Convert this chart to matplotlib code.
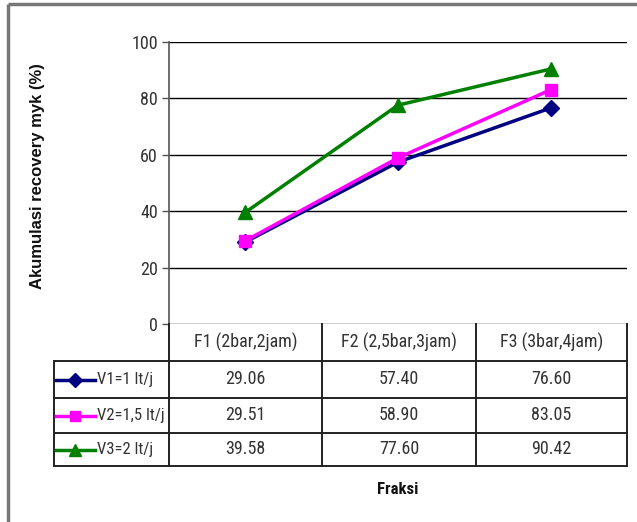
import matplotlib
matplotlib.use("Agg")
import matplotlib.pyplot as plt
from matplotlib import font_manager

# Data
fractions = ["F1 (2bar,2jam)", "F2 (2,5bar,3jam)", "F3 (3bar,4jam)"]
series_names = ["V1=1 lt/j", "V2=1,5 lt/j", "V3=2 lt/j"]
v1 = [29.06, 57.40, 76.60]
v2 = [29.51, 58.90, 83.05]
v3 = [39.58, 77.60, 90.42]
yticks = [0, 20, 40, 60, 80, 100]

series = [v1, v2, v3]
colors = ["#000080", "#FF00FF", "#008000"]
markers = ["D", "s", "^"]
msizes = [8, 9, 10.5]

available = {f.name for f in font_manager.fontManager.ttflist}
narrow = next((n for n in ["Liberation Sans Narrow", "Arial Narrow", "Roboto Condensed",
                           "Archivo Narrow", "Barlow Semi Condensed", "Liberation Sans"]
               if n in available), "DejaVu Sans")
plt.rcParams["font.family"] = [narrow, "DejaVu Sans"]

W, H = 637, 522
fig = plt.figure(figsize=(W / 100, H / 100), dpi=100)

# layout in pixels
col_edges = [54, 169, 322, 476, 627]
row_edges = [324, 361, 398, 433, 466]
top_px = 42

def fx(px):
    return px / W

def fy(py):
    return 1 - py / H

ax = fig.add_axes([fx(col_edges[1]), fy(row_edges[0]),
                   fx(col_edges[-1]) - fx(col_edges[1]),
                   fy(top_px) - fy(row_edges[0])])
ax.set_xlim(0, len(fractions))
ax.set_ylim(0, 100)
ax.set_yticks(yticks)
ax.set_xticks([])
ax.yaxis.grid(True, color="black", linewidth=1.0)
ax.set_axisbelow(True)
for s in ["top", "right", "bottom"]:
    ax.spines[s].set_visible(False)
ax.spines["left"].set_color("#555555")
ax.spines["left"].set_linewidth(1.2)
ax.tick_params(axis="y", length=5, width=1, color="#555555",
               labelsize=13, labelcolor="#333333", pad=3)

xs = [i + 0.5 for i in range(len(fractions))]
for vals, c, m, ms in zip(series, colors, markers, msizes):
    ax.plot(xs, vals, color=c, marker=m, markersize=ms, linewidth=2.5,
            markeredgecolor=c, clip_on=False, zorder=3)

fig.text(fx(38), fy(176), "Akumulasi recovery myk (%)", rotation=90,
         ha="center", va="center", fontsize=12, fontweight="bold",
         family=["Liberation Sans", "DejaVu Sans"], color="#111111")

# data table below the plot
tab = fig.add_axes([0, 0, 1, 1])
tab.set_xlim(0, W)
tab.set_ylim(H, 0)
tab.axis("off")
tab.patch.set_alpha(0)

lc = "#222222"
lw = 1.4
for i, x in enumerate(col_edges):
    y0 = row_edges[0] if i > 0 else row_edges[1]
    tab.plot([x, x], [y0, row_edges[-1]], color=lc, linewidth=lw)
for y in row_edges[1:]:
    tab.plot([col_edges[0], col_edges[-1]], [y, y], color=lc, linewidth=lw)

for k, name in enumerate(fractions):
    cx = (col_edges[k + 1] + col_edges[k + 2]) / 2
    cy = (row_edges[0] + row_edges[1]) / 2
    tab.text(cx, cy, name, ha="center", va="center", fontsize=13, color="#333333")

for r, (vals, name, c, m, ms) in enumerate(zip(series, series_names, colors, markers, msizes)):
    cy = (row_edges[r + 1] + row_edges[r + 2]) / 2
    tab.plot([56, 95], [cy, cy], color=c, linewidth=2.5)
    tab.plot([75], [cy], marker=m, color=c, markersize=ms * 0.85, markeredgecolor=c)
    tab.text(97, cy, name, ha="left", va="center", fontsize=12, color="#333333")
    for k, v in enumerate(vals):
        cx = (col_edges[k + 1] + col_edges[k + 2]) / 2
        tab.text(cx, cy, f"{v:.2f}", ha="center", va="center", fontsize=13, color="#333333")

tab.text(398, 490, "Fraksi", ha="center", va="center", fontsize=12,
         fontweight="bold", color="#111111")

# outer frame
tab.plot([8, 8], [4, H], color="#777777", linewidth=2.5, solid_capstyle="butt")
tab.plot([8, W], [4, 4], color="#777777", linewidth=2.5, solid_capstyle="butt")

fig.savefig("out.png", dpi=100, facecolor="white")
